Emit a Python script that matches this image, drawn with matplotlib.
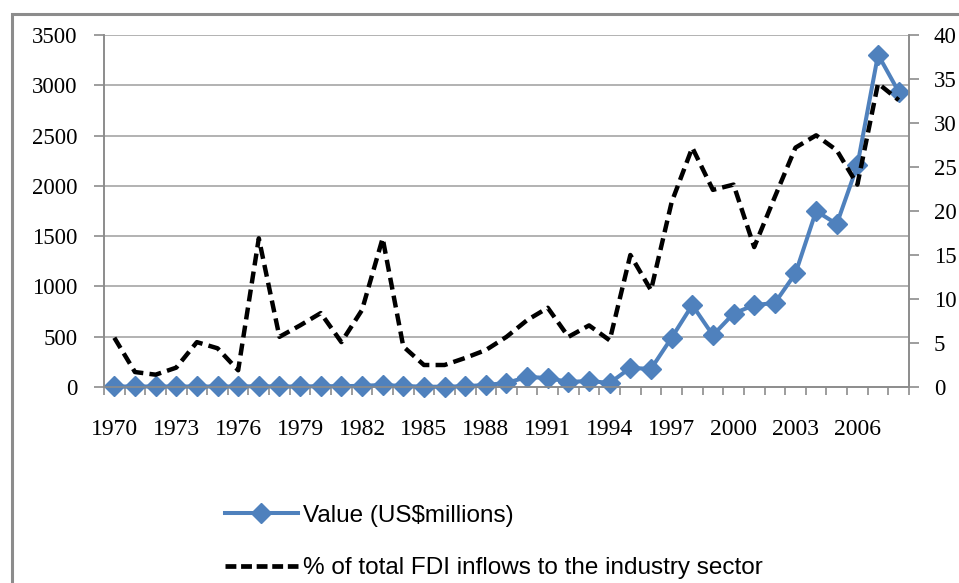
import matplotlib
matplotlib.use("Agg")
import matplotlib.pyplot as plt
from matplotlib.lines import Line2D
from matplotlib.patches import Rectangle
import numpy as np

years = list(range(1970, 2009))
value_musd = [5, 5, 5, 5, 5, 5, 5, 8, 5, 5, 8, 8, 12, 20, 10, 3, 3, 8, 20, 40,
              100, 90, 50, 60, 40, 190, 180, 490, 815, 515, 730, 815, 835, 1130,
              1750, 1620, 2205, 3305, 2935]
pct_industry = [5.6, 1.7, 1.4, 2.2, 5.1, 4.4, 1.9, 16.9, 5.7, 7.0, 8.4, 5.1, 8.75, 16.9,
                4.6, 2.5, 2.5, 3.3, 4.2, 5.7, 7.6, 9.0, 5.7, 7.0, 5.3, 15.0, 11.0, 21.0,
                27.2, 22.4, 23.0, 15.9, 21.6, 27.2, 28.6, 26.9, 23.0, 34.5, 32.6]
left_ticks = [0, 500, 1000, 1500, 2000, 2500, 3000, 3500]
right_ticks = [0, 5, 10, 15, 20, 25, 30, 35, 40]
label_value = "Value (US$millions)"
label_pct = "% of total FDI inflows to the industry sector"

W, H = 959, 583
fig = plt.figure(figsize=(W / 100, H / 100), dpi=100)
fig.patch.set_facecolor("white")

# outer chart frame
fig.patches.append(Rectangle((12 / W, -0.05), 1.1, (H - 14) / H + 0.05,
                             transform=fig.transFigure, fill=False,
                             edgecolor="#8c8c8c", linewidth=2.2, zorder=0))

left, right, top, bottom = 104, 909, 35, 387
ax = fig.add_axes([left / W, (H - bottom) / H, (right - left) / W, (bottom - top) / H])
ax2 = ax.twinx()

x = np.arange(len(years))
serif = ["Liberation Serif", "DejaVu Serif"]
fs = 16.5

ax.set_xlim(-0.5, len(years) - 0.5)
ax.set_ylim(0, 3500)
ax2.set_ylim(0, 40)

for yv in left_ticks[1:]:
    ax.axhline(yv, color="#a6a6a6", linewidth=1.2, zorder=0)

blue = "#4f81bd"
ax.plot(x, value_musd, color=blue, linewidth=2.9, marker="D", markersize=10.5,
        markeredgecolor=blue, zorder=3, clip_on=False)
ax2.plot(x, pct_industry, color="black", linewidth=3.2, dashes=(2.7, 1.4), zorder=3)

for a in (ax, ax2):
    a.spines["top"].set_visible(False)
    for s in ("left", "right", "bottom"):
        a.spines[s].set_color("#8c8c8c")
        a.spines[s].set_linewidth(1.2)

ax.set_yticks(left_ticks)
ax.set_yticklabels([str(t) for t in left_ticks], fontfamily=serif, fontsize=fs)
ax.tick_params(axis="y", direction="out", length=7, width=1.2, color="#8c8c8c", pad=12)
ax2.set_yticks(right_ticks)
ax2.set_yticklabels([str(t) for t in right_ticks], fontfamily=serif, fontsize=fs)
ax2.tick_params(axis="y", direction="out", length=7, width=1.2, color="#8c8c8c", pad=11)

ax.set_xticks(x[::3])
ax.set_xticklabels([str(y) for y in years[::3]], fontfamily=serif, fontsize=fs + 0.5)
ax.tick_params(axis="x", which="major", length=0, pad=23)
ax.set_xticks(np.arange(-0.5, len(years), 1.0), minor=True)
ax.tick_params(axis="x", which="minor", direction="out", length=6, width=1.2, color="#8c8c8c")

handles = [
    Line2D([], [], color=blue, linewidth=2.9, marker="D", markersize=10.5),
    Line2D([], [], color="black", linewidth=3.4, dashes=(2.3, 1.0)),
]
leg = fig.legend(handles, [label_value, label_pct], loc="upper left",
                 bbox_to_anchor=(203 / W, 1 - 483 / H), frameon=False,
                 prop={"family": ["Liberation Sans"], "size": 17.5},
                 handlelength=3.0, handletextpad=0.2, labelspacing=1.25)

fig.savefig("out.png", dpi=100, facecolor="white")
